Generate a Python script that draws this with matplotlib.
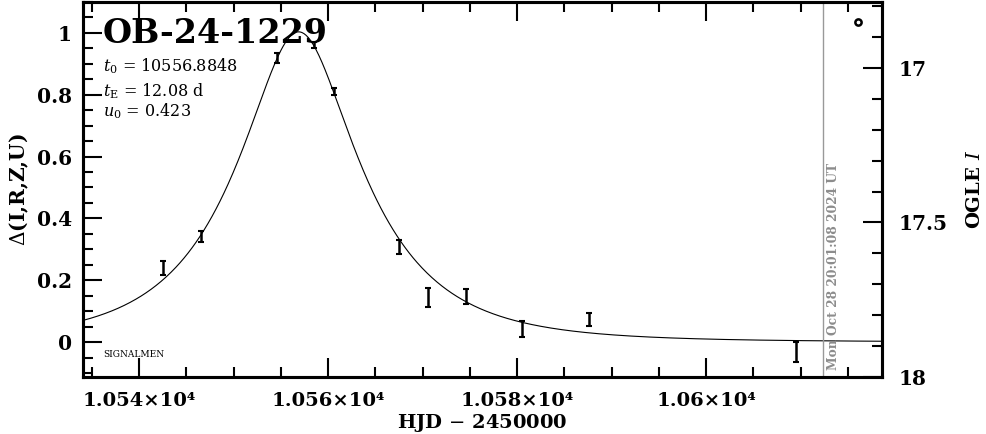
import numpy as np
import matplotlib
matplotlib.use("Agg")
import matplotlib.pyplot as plt
from matplotlib.ticker import MultipleLocator, FuncFormatter

# event / fit parameters shown on the chart
event_name = "OB-24-1229"
t0 = 10556.8848
tE = 12.08
u0 = 0.423
I_base = 17.887
stamp = "Mon Oct 28 20:01:08 2024 UT"
now_hjd = 10612.4

# OGLE photometry (HJD-2450000, delta mag, error)
hjd = [10542.54, 10546.56, 10554.60, 10558.52, 10560.63, 10567.51,
       10570.58, 10574.60, 10580.53, 10587.62, 10609.52]
dmag = [0.239, 0.341, 0.919, 0.961, 0.811, 0.307,
        0.144, 0.147, 0.042, 0.073, -0.032]
derr = [0.023, 0.018, 0.016, 0.010, 0.012, 0.023,
        0.030, 0.024, 0.026, 0.020, 0.031]

# the lone symbol at upper right
sym_x = [10616.1]
sym_y = [1.036]

xlim = (10534.07, 10618.6)
ylim = (-0.113, 1.100)

plt.rcParams['font.family'] = ['DejaVu Serif']
plt.rcParams['mathtext.fontset'] = 'dejavuserif'

fig = plt.figure(figsize=(9.86, 4.34), dpi=100)
ax = fig.add_axes([0.0842, 0.1313, 0.8103, 0.8641])

# Paczynski model from the listed fit parameters
tt = np.linspace(xlim[0], xlim[1], 800)
uu = np.sqrt(u0**2 + ((tt - t0) / tE)**2)
AA = (uu**2 + 2) / (uu * np.sqrt(uu**2 + 4))
ax.plot(tt, 2.5 * np.log10(AA), color='black', lw=0.8)

ax.errorbar(hjd, dmag, yerr=derr, fmt='none', ecolor='black',
            elinewidth=1.8, capsize=2.5, capthick=1.5)
ax.plot(sym_x, sym_y, 'o', mfc='none', mec='black', mew=1.8, ms=4.5)

ax.axvline(now_hjd, color='#999999', lw=1.0)
ax.text(now_hjd + 0.35, -0.09, stamp, rotation=90, ha='left', va='bottom',
        color='#8c8c8c', fontsize=8.8, fontweight='bold')

ax.set_xlim(*xlim)
ax.set_ylim(*ylim)

ax.text(0.025, 0.96, event_name, transform=ax.transAxes, ha='left', va='top',
        fontsize=24, fontweight='bold')
ax.text(0.025, 0.83, r'$t_0$ = %.4f' % t0, transform=ax.transAxes,
        ha='left', va='center', fontsize=11.5)
ax.text(0.025, 0.763, r'$t_{\rm E}$ = %.2f d' % tE, transform=ax.transAxes,
        ha='left', va='center', fontsize=11.5)
ax.text(0.025, 0.71, r'$u_0$ = %.3f' % u0, transform=ax.transAxes,
        ha='left', va='center', fontsize=11.5)
ax.text(0.025, 0.06, "SIGNALMEN", transform=ax.transAxes, ha='left',
        va='center', fontsize=6.5)


def xfmt(v, p):
    s = ('%.3f' % (v / 1e4)).rstrip('0')
    return s + '\u00d710\u2074'


ax.xaxis.set_major_locator(MultipleLocator(20))
ax.xaxis.set_minor_locator(MultipleLocator(5))
ax.xaxis.set_major_formatter(FuncFormatter(xfmt))
ax.yaxis.set_major_locator(MultipleLocator(0.2))
ax.yaxis.set_minor_locator(MultipleLocator(0.05))
ax.yaxis.set_major_formatter(FuncFormatter(lambda v, p: '%g' % round(v, 2)))

ax.tick_params(which='both', direction='in', top=True, right=False, width=1.5)
ax.tick_params(which='major', length=14, labelsize=14.5, pad=8)
ax.tick_params(which='minor', length=7)
ax.tick_params(axis='x', which='major', labelsize=14, pad=11)
for lab in ax.get_yticklabels() + ax.get_xticklabels():
    lab.set_fontweight('bold')
for sp in ax.spines.values():
    sp.set_linewidth(2.2)

ax.set_xlabel('HJD $-$ 2450000', fontsize=14, fontweight='bold', labelpad=1)
ax.set_ylabel(r'$\Delta$(I,R,Z,U)', fontsize=14.5, fontweight='bold', labelpad=4)

ax2 = ax.twinx()
ax2.set_ylim(I_base - ylim[0], I_base - ylim[1])
ax2.yaxis.set_major_locator(MultipleLocator(0.5))
ax2.yaxis.set_minor_locator(MultipleLocator(0.1))
ax2.yaxis.set_major_formatter(FuncFormatter(lambda v, p: '%g' % round(v, 2)))
ax2.tick_params(which='both', direction='in', width=1.5)
ax2.tick_params(which='major', length=14, labelsize=14.5, pad=12)
ax2.tick_params(which='minor', length=7)
for lab in ax2.get_yticklabels():
    lab.set_fontweight('bold')
ax2.set_ylabel(r'OGLE $I$', fontsize=14, fontweight='bold', labelpad=13)
for sp in ax2.spines.values():
    sp.set_linewidth(2.2)

fig.savefig('out.png', dpi=100)
